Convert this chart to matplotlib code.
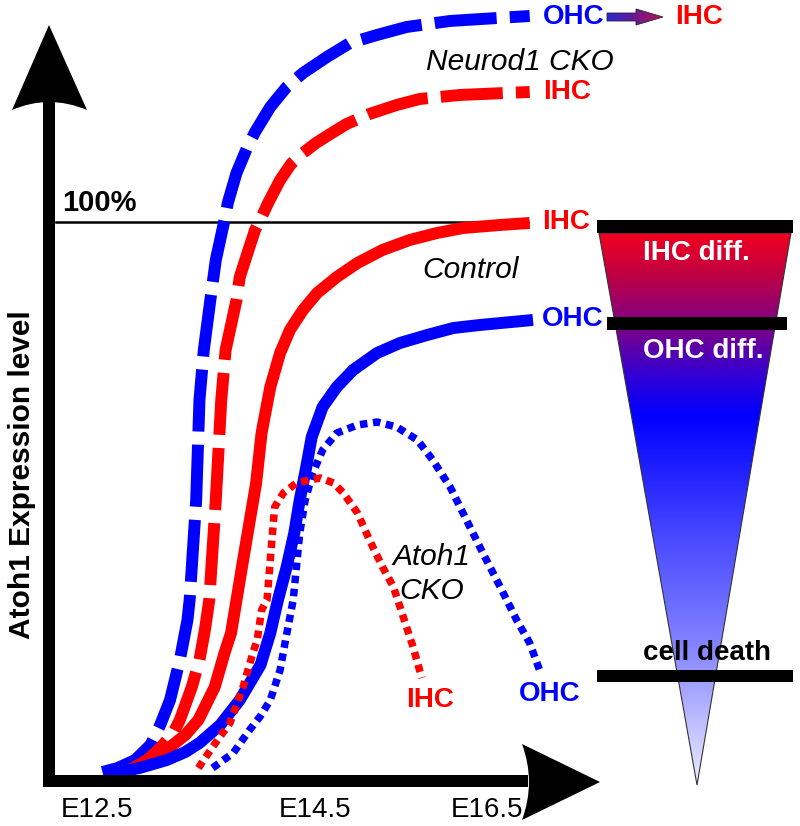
import numpy as np
import matplotlib
matplotlib.use('Agg')
import matplotlib.pyplot as plt
from matplotlib.path import Path
from matplotlib.patches import PathPatch, Polygon, Rectangle
from matplotlib.colors import LinearSegmentedColormap
from matplotlib import transforms

plt.rcParams['font.family'] = ['Liberation Sans', 'DejaVu Sans']

# ---------------- data: x = embryonic day, y = Atoh1 expression (% of control IHC) -------------
neurod_ohc_day = [12.55, 12.69, 12.85, 12.99, 13.08, 13.17, 13.26, 13.33, 13.35, 13.41, 13.44, 13.48,
                  13.54, 13.59, 13.63, 13.67, 13.70, 13.78, 13.88, 13.95, 14.09, 14.24, 14.39, 14.61,
                  14.82, 15.07, 15.34, 15.74, 16.47]
neurod_ohc_level = [0.54, 1.27, 2.71, 5.42, 9.04, 13.56, 20.80, 28.03, 31.65, 49.73, 67.81, 76.85,
                    85.90, 93.13, 96.75, 100.36, 103.44, 108.86, 113.56, 116.27, 120.80, 124.41,
                    126.94, 129.84, 132.37, 133.82, 135.26, 136.35, 137.25]

neurod_ihc_day = [12.67, 12.80, 12.96, 13.08, 13.20, 13.26, 13.37, 13.44, 13.49, 13.53, 13.59, 13.64,
                  13.68, 13.78, 13.81, 13.89, 13.95, 14.01, 14.07, 14.18, 14.28, 14.39, 14.51, 14.64,
                  14.79, 15.00, 15.25, 15.46, 15.83, 16.47]
neurod_ihc_level = [0.36, 0.90, 2.71, 4.88, 7.59, 9.95, 15.91, 20.80, 26.22, 31.65, 49.73, 67.81,
                    76.85, 85.90, 90.05, 94.94, 98.55, 100.90, 103.44, 107.59, 110.49, 112.48,
                    114.29, 115.91, 117.72, 119.53, 121.16, 122.24, 122.97, 123.51]

control_ihc_day = [12.60, 12.80, 12.99, 13.17, 13.31, 13.43, 13.58, 13.67, 13.73, 13.83, 13.96, 14.01,
                   14.09, 14.18, 14.27, 14.39, 14.52, 14.70, 14.89, 15.12, 15.37, 15.62, 15.86, 16.20,
                   16.47]
control_ihc_level = [0.36, 1.27, 2.71, 5.06, 7.23, 9.95, 15.91, 22.06, 25.68, 37.61, 52.80, 61.84,
                     70.16, 76.31, 80.47, 84.09, 87.16, 90.05, 92.59, 94.94, 96.75, 98.01, 98.92,
                     99.46, 99.82]

control_ohc_day = [12.62, 12.89, 13.14, 13.31, 13.44, 13.63, 13.81, 14.00, 14.09, 14.16, 14.24, 14.31,
                   14.36, 14.42, 14.47, 14.57, 14.70, 14.85, 15.07, 15.28, 15.53, 15.77, 16.01, 16.50]
control_ohc_level = [0.18, 1.27, 2.71, 4.16, 5.79, 9.04, 13.56, 19.89, 25.68, 31.65, 37.61, 43.76,
                     49.73, 55.70, 61.12, 66.55, 70.16, 73.24, 76.31, 78.12, 79.57, 80.83, 81.37,
                     82.28]

atoh_ihc_day = [13.43, 13.56, 13.72, 13.84, 13.93, 13.97, 14.01, 14.06, 14.11, 14.13, 14.21, 14.33,
                14.45, 14.55, 14.67, 14.76, 14.89, 15.00, 15.12, 15.22, 15.31, 15.40, 15.48]
atoh_ihc_level = [1.27, 5.06, 9.40, 15.91, 22.06, 24.41, 29.84, 31.65, 43.76, 48.46, 51.00, 52.80,
                  53.35, 53.71, 52.80, 51.00, 47.38, 42.50, 37.61, 34.00, 28.57, 23.15, 17.54]

atoh_ohc_day = [13.56, 13.75, 13.90, 14.00, 14.09, 14.18, 14.23, 14.30, 14.36, 14.41, 14.48, 14.57,
                14.70, 14.89, 15.07, 15.25, 15.44, 15.58, 15.74, 15.89, 16.04, 16.20, 16.35, 16.47,
                16.56]
atoh_ohc_level = [1.27, 3.98, 8.14, 10.67, 13.56, 18.99, 24.41, 31.65, 43.76, 49.73, 54.61, 58.77,
                  61.84, 63.29, 63.83, 62.93, 60.58, 56.96, 52.08, 46.11, 40.14, 34.00, 28.03, 23.87,
                  18.99]

tick_days = [12.5, 14.5, 16.5]
tick_labels = ['E12.5', 'E14.5', 'E16.5']
full_level = 100

RED = '#ff0000'
BLUE = '#0000ff'

fig = plt.figure(figsize=(8, 8.26), dpi=100)
fig.patch.set_facecolor('white')

ax = fig.add_axes([0, 0, 1, 1])
ax.set_xlim(11.61, 18.95)
ax.set_ylim(-9.22, 140.14)
ax.axis('off')

ov = fig.add_axes([0, 0, 1, 1], zorder=3)
ov.set_xlim(0, 800)
ov.set_ylim(826, 0)
ov.axis('off')
ov.patch.set_alpha(0)

# 100% reference line
ax.plot([12.12, 16.45], [full_level, full_level], color='black', lw=1.8, zorder=1)

# curves
lw_thick = 8.6
ax.plot(control_ihc_day, control_ihc_level, color=RED, lw=lw_thick, solid_capstyle='butt',
        solid_joinstyle='round', zorder=2)
ax.plot(control_ohc_day, control_ohc_level, color=BLUE, lw=lw_thick, solid_capstyle='butt',
        solid_joinstyle='round', zorder=3)
ax.plot(neurod_ohc_day, neurod_ohc_level, color=BLUE, lw=lw_thick, dashes=(5.2, 1.1),
        dash_capstyle='butt', dash_joinstyle='round', zorder=2)
ax.plot(neurod_ihc_day, neurod_ihc_level, color=RED, lw=lw_thick, dashes=(5.2, 1.1),
        dash_capstyle='butt', dash_joinstyle='round', zorder=2)
ax.plot(atoh_ohc_day, atoh_ohc_level, color=BLUE, lw=5.4, dashes=(1.0, 0.75),
        dash_capstyle='butt', zorder=4)
ax.plot(atoh_ihc_day, atoh_ihc_level, color=RED, lw=5.4, dashes=(1.0, 0.75),
        dash_capstyle='butt', zorder=5)

# ---------------- axes arrows (pixel overlay) ----------------
ov.add_patch(Rectangle((43, 100), 12, 687, color='black', lw=0))
ov.add_patch(Rectangle((43, 775), 485, 12, color='black', lw=0))
yhead = Path([(49, 25), (87, 110), (49, 94), (12, 110), (49, 25)],
             [Path.MOVETO, Path.LINETO, Path.CURVE3, Path.CURVE3, Path.CLOSEPOLY])
ov.add_patch(PathPatch(yhead, color='black', lw=0))
xhead = Path([(600, 782), (522, 820), (536, 782), (522, 744), (600, 782)],
             [Path.MOVETO, Path.LINETO, Path.CURVE3, Path.CURVE3, Path.CLOSEPOLY])
ov.add_patch(PathPatch(xhead, color='black', lw=0))

# tick labels
tb = transforms.blended_transform_factory(ax.transData, ov.transData)
offsets = [0, 0, -46]
for d, lab, off in zip(tick_days, tick_labels, offsets):
    t = transforms.offset_copy(tb, fig=fig, x=off, y=0, units='dots')
    ov.text(d, 810, lab, transform=t, ha='center', va='center', fontsize=20)

ov.text(22, 475, 'Atoh1 Expression level', rotation=90, ha='center', va='center',
        fontsize=21.5, fontweight='bold')
ov.text(62, 203, '100%', ha='left', va='center', fontsize=21, fontweight='bold')

# ---------------- gradient triangle ----------------
stops = [(0.0, '#ee0020'), (0.06, '#c8003c'), (0.16, '#820080'), (0.26, '#3000d8'),
         (0.33, '#0000ff'), (0.55, '#4848ff'), (0.75, '#8484ff'), (1.0, '#ececff')]
cmap = LinearSegmentedColormap.from_list('tri', stops)
grad = np.linspace(0, 1, 300).reshape(-1, 1)
im = ov.imshow(grad, cmap=cmap, extent=(599, 791, 785, 233), origin='upper', aspect='auto',
               zorder=1)
tri = Polygon([(599, 233), (791, 233), (697, 785)], closed=True, facecolor='none',
              edgecolor='#333333', lw=0.8, zorder=2)
ov.add_patch(tri)
im.set_clip_path(tri)

ov.add_patch(Rectangle((597, 220), 196, 13, color='black', lw=0, zorder=3))
ov.add_patch(Rectangle((607, 317), 180, 13, color='black', lw=0, zorder=3))
ov.add_patch(Rectangle((597, 670), 196, 12, color='black', lw=0, zorder=3))

ov.text(696, 253, 'IHC diff.', color='white', ha='center', va='center', fontsize=20,
        fontweight='bold', zorder=4)
ov.text(703, 351, 'OHC diff.', color='white', ha='center', va='center', fontsize=20,
        fontweight='bold', zorder=4)
ov.text(707, 653, 'cell death', color='black', ha='center', va='center', fontsize=20,
        fontweight='bold', zorder=4)

# ---------------- top arrow OHC -> IHC ----------------
arr = Polygon([(607, 13), (636, 13), (636, 9), (663, 17), (636, 25), (636, 21), (607, 21)],
              closed=True, facecolor='none', edgecolor='#222244', lw=0.6, zorder=2)
ov.add_patch(arr)
hcmap = LinearSegmentedColormap.from_list('arr', ['#2a2ad0', '#6a1a90', '#c01048'])
aim = ov.imshow(np.linspace(0, 1, 100).reshape(1, -1), cmap=hcmap, extent=(607, 663, 25, 9),
                origin='upper', aspect='auto', zorder=1)
aim.set_clip_path(arr)

# ---------------- labels ----------------
lab_kw = dict(fontsize=20, fontweight='bold', va='center')
ov.text(543, 17, 'OHC', color=BLUE, ha='left', **lab_kw)
ov.text(675, 17, 'IHC', color=RED, ha='left', **lab_kw)
ov.text(543, 92, 'IHC', color=RED, ha='left', **lab_kw)
ov.text(542, 222, 'IHC', color=RED, ha='left', **lab_kw)
ov.text(542, 319, 'OHC', color=BLUE, ha='left', **lab_kw)
ov.text(430, 700, 'IHC', color=RED, ha='center', **lab_kw)
ov.text(550, 694, 'OHC', color=BLUE, ha='center', **lab_kw)

ital = dict(fontsize=21.5, fontstyle='italic', ha='center', va='center')
ov.text(520, 62, 'Neurod1 CKO', **ital)
ov.text(471, 270, 'Control', **ital)
ov.text(431, 557, 'Atoh1', **ital)
ov.text(432, 591, 'CKO', **ital)

ov.set_xlim(0, 800)
ov.set_ylim(826, 0)

fig.savefig('out.png', dpi=100, facecolor='white')
